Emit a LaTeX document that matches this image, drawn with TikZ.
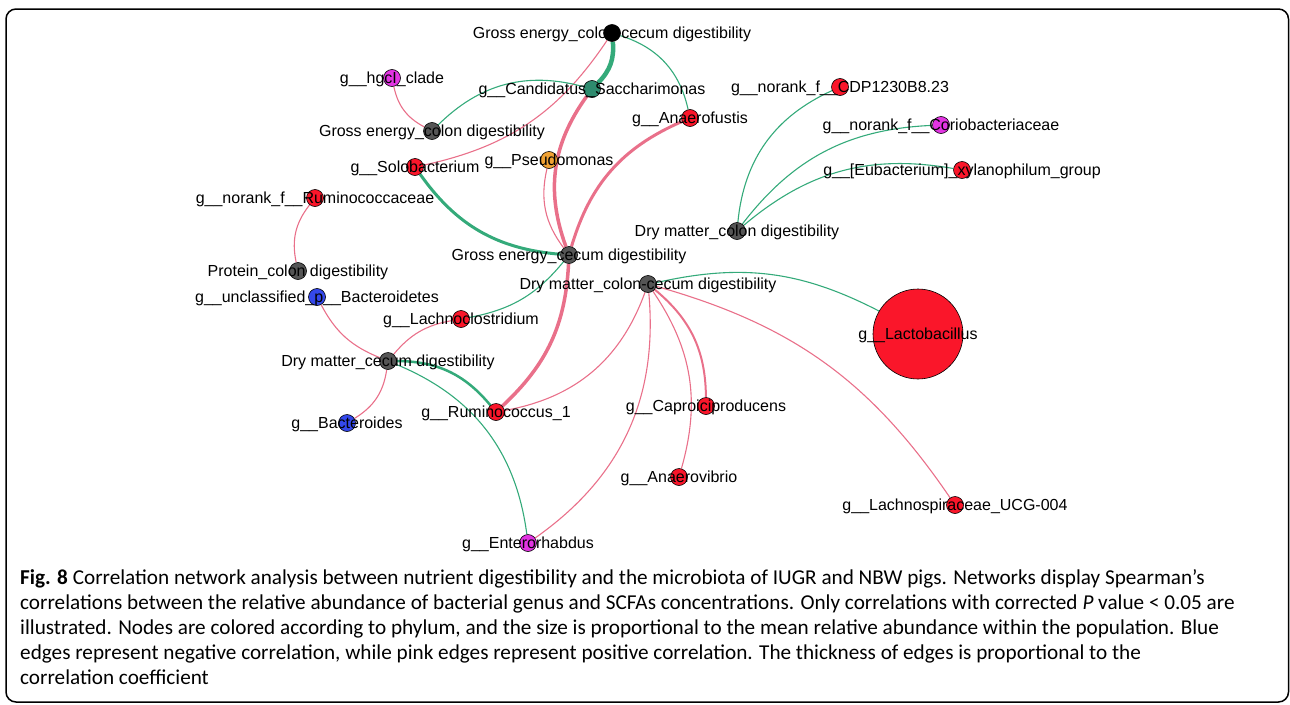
\documentclass[tikz,border=0pt]{standalone}
\usepackage{fontspec}
\setmainfont{Liberation Sans}
\newfontfamily\capfont{Carlito}
\usetikzlibrary{backgrounds}
\definecolor{ePink}{RGB}{233,112,138}
\definecolor{eGreen}{RGB}{52,170,122}
\definecolor{nRed}{RGB}{250,22,42}
\definecolor{nMag}{RGB}{226,52,226}
\definecolor{nTeal}{RGB}{46,139,110}
\definecolor{nGray}{RGB}{85,85,85}
\definecolor{nBlue}{RGB}{52,72,235}
\definecolor{nOrange}{RGB}{240,162,52}
\tikzset{
  dot/.style={circle, draw=black, line width=0.6pt, minimum size=17pt, inner sep=0pt},
  lab/.style={anchor=base, yshift=-5pt, inner sep=0pt, font=\fontsize{16}{16}\selectfont},
  pe/.style={draw=ePink, line width=1.1pt},
  ge/.style={draw=eGreen, line width=1.1pt},
  capl/.style={anchor=base west, inner sep=0pt, font=\capfont\fontsize{21.2}{25}\selectfont},
}
\begin{document}
\begin{tikzpicture}[x=1pt,y=1pt]
\useasboundingbox (0,0) rectangle (1290,-704);
\draw[line width=1.5pt, rounded corners=10pt] (6,-9) rectangle (1288.5,-702);

% nodes
\node[dot, fill=black] (gecc) at (612,-33) {};
\node[dot, fill=nMag] (hgcl) at (392,-78) {};
\node[dot, fill=nTeal] (cand) at (592,-89) {};
\node[dot, fill=nGray] (gecol) at (432,-131) {};
\node[dot, fill=nRed] (anfu) at (690,-118) {};
\node[dot, fill=nRed] (cdp) at (840,-87) {};
\node[dot, fill=nMag] (corio) at (941,-125) {};
\node[dot, fill=nRed] (eubac) at (962,-170) {};
\node[dot, fill=nRed] (solob) at (415,-167) {};
\node[dot, fill=nOrange] (pseu) at (549,-160) {};
\node[dot, fill=nRed] (rumin) at (315,-198) {};
\node[dot, fill=nGray] (dmcol) at (737,-231) {};
\node[dot, fill=nGray] (gecec) at (569,-255) {};
\node[dot, fill=nGray] (dmcc) at (648,-284) {};
\node[dot, fill=nGray] (prot) at (298,-271) {};
\node[dot, fill=nBlue] (unbac) at (317,-297) {};
\node[dot, fill=nRed] (lachc) at (461,-319) {};
\node[dot, fill=nRed, minimum size=90pt] (lacto) at (918,-334) {};
\node[dot, fill=nGray] (dmcec) at (388,-361) {};
\node[dot, fill=nRed] (rum1) at (496,-412) {};
\node[dot, fill=nBlue] (bact) at (347,-423) {};
\node[dot, fill=nRed] (capro) at (706,-406) {};
\node[dot, fill=nRed] (anvi) at (679,-477) {};
\node[dot, fill=nRed] (lucg) at (955,-505) {};
\node[dot, fill=nMag] (enter) at (528,-543) {};

% edges
\begin{scope}[on background layer]
\draw[pe, line width=3.5pt] (cand) to[bend right=28] (gecec);
\draw[pe, line width=3.5pt] (gecec) to[bend left=22] (rum1);
\draw[ge, line width=4.5pt] (gecc) to[bend left=25] (cand);
\draw[ge] (gecc) to[bend left=30] (anfu);
\draw[pe] (gecc) to[bend left=22] (solob);
\draw[pe, line width=3pt] (anfu) to[bend right=25] (gecec);
\draw[pe] (pseu) to[bend right=25] (gecec);
\draw[ge, line width=3pt] (solob) to[bend right=25] (gecec);
\draw[ge] (gecec) to[bend left=20] (lachc);
\draw[pe] (gecol) to[bend left=25] (hgcl);
\draw[ge] (gecol) to[bend left=30] (cand);
\draw[pe] (rumin) to[bend right=25] (prot);
\draw[pe] (unbac) to[bend right=20] (dmcec);
\draw[pe] (dmcec) to[bend left=25] (bact);
\draw[pe] (dmcec) to[bend left=20] (lachc);
\draw[ge, line width=2.5pt] (dmcec) to[bend left=25] (rum1);
\draw[ge] (dmcec) to[bend left=30] (enter);
\draw[pe] (dmcc) to[bend left=30] (rum1);
\draw[pe] (dmcc) to[bend left=30] (enter);
\draw[pe] (dmcc) to[bend left=25] (anvi);
\draw[pe, line width=2pt] (dmcc) to[bend left=25] (capro);
\draw[pe] (dmcc) to[bend left=20] (lucg);
\draw[ge] (dmcc) to[bend left=20] (lacto);
\draw[ge] (dmcol) to[bend left=30] (cdp);
\draw[ge] (dmcol) to[bend left=25] (corio);
\draw[ge] (dmcol) to[bend left=25] (eubac);
\end{scope}

% labels
\node[lab] (gecc-t) at (gecc) {Gross energy\_colon-cecum digestibility};
\node[lab] (hgcl-t) at (hgcl) {g\_\_hgcI\_clade};
\node[lab] (cand-t) at (cand) {g\_\_Candidatus\_Saccharimonas};
\node[lab] (gecol-t) at (gecol) {Gross energy\_colon digestibility};
\node[lab] (anfu-t) at (anfu) {g\_\_Anaerofustis};
\node[lab] (cdp-t) at (cdp) {g\_\_norank\_f\_\_CDP1230B8.23};
\node[lab] (corio-t) at (corio) {g\_\_norank\_f\_\_Coriobacteriaceae};
\node[lab] (eubac-t) at (eubac) {g\_\_[Eubacterium]\_xylanophilum\_group};
\node[lab] (solob-t) at (solob) {g\_\_Solobacterium};
\node[lab] (pseu-t) at (pseu) {g\_\_Pseudomonas};
\node[lab] (rumin-t) at (rumin) {g\_\_norank\_f\_\_Ruminococcaceae};
\node[lab] (dmcol-t) at (dmcol) {Dry matter\_colon digestibility};
\node[lab] (gecec-t) at (gecec) {Gross energy\_cecum digestibility};
\node[lab] (dmcc-t) at (dmcc) {Dry matter\_colon-cecum digestibility};
\node[lab] (prot-t) at (prot) {Protein\_colon digestibility};
\node[lab] (unbac-t) at (unbac) {g\_\_unclassified\_p\_\_Bacteroidetes};
\node[lab] (lachc-t) at (lachc) {g\_\_Lachnoclostridium};
\node[lab] (lacto-t) at (lacto) {g\_\_Lactobacillus};
\node[lab] (dmcec-t) at (dmcec) {Dry matter\_cecum digestibility};
\node[lab] (rum1-t) at (rum1) {g\_\_Ruminococcus\_1};
\node[lab] (bact-t) at (bact) {g\_\_Bacteroides};
\node[lab] (capro-t) at (capro) {g\_\_Caproiciproducens};
\node[lab] (anvi-t) at (anvi) {g\_\_Anaerovibrio};
\node[lab] (lucg-t) at (lucg) {g\_\_Lachnospiraceae\_UCG-004};
\node[lab] (enter-t) at (enter) {g\_\_Enterorhabdus};

% caption
\node[capl] (cap1) at (20,-584) {\textbf{Fig. 8} Correlation network analysis between nutrient digestibility and the microbiota of IUGR and NBW pigs. Networks display Spearman’s};
\node[capl] (cap2) at (20,-609) {correlations between the relative abundance of bacterial genus and SCFAs concentrations. Only correlations with corrected \textit{P} value < 0.05 are};
\node[capl] (cap3) at (20,-634) {illustrated. Nodes are colored according to phylum, and the size is proportional to the mean relative abundance within the population. Blue};
\node[capl] (cap4) at (20,-659) {edges represent negative correlation, while pink edges represent positive correlation. The thickness of edges is proportional to the};
\node[capl] (cap5) at (20,-684) {correlation coefficient};
\end{tikzpicture}
\end{document}
